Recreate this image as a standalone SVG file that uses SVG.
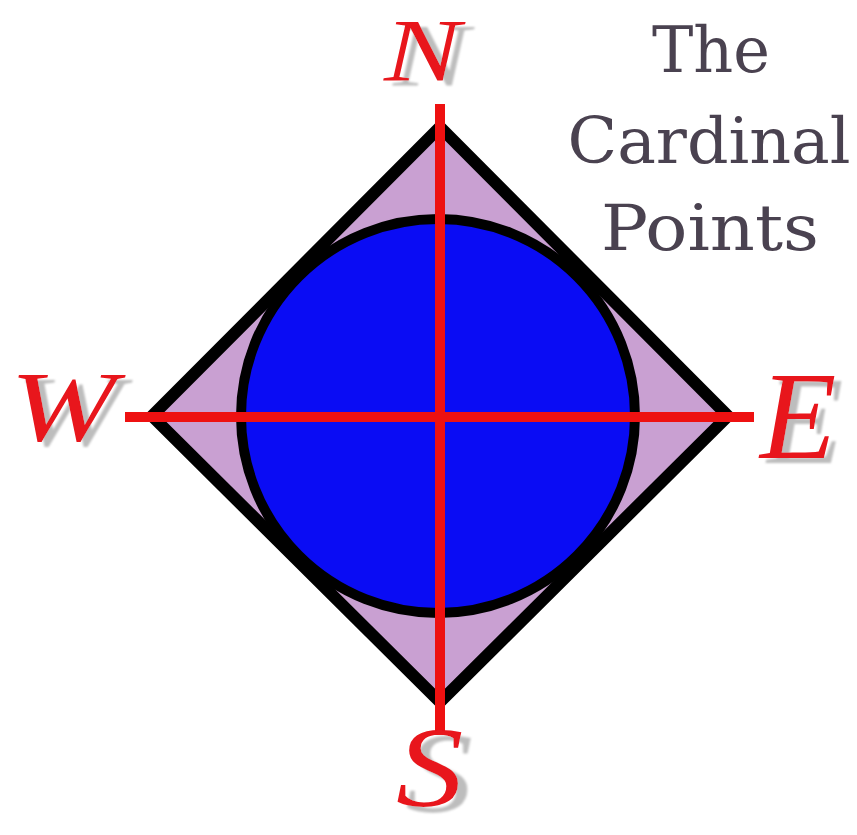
<svg xmlns="http://www.w3.org/2000/svg" width="857" height="835" viewBox="0 0 857 835">
<defs>
<filter id="shadow" x="-20%" y="-20%" width="150%" height="150%">
<feDropShadow dx="7" dy="5" stdDeviation="0.8" flood-color="#bdbdbd" flood-opacity="1"/>
</filter>
</defs>
<style>
.lt{font-family:"Liberation Serif","DejaVu Serif",serif;font-style:italic;fill:#e8141c;filter:url(#shadow)}
.ti{font-family:"DejaVu Serif","Liberation Serif",serif;fill:#4a4250;font-size:64px;text-anchor:middle}
.red{stroke:#ee1111;stroke-width:10;fill:none}
</style>
<rect width="857" height="835" fill="#ffffff"/>
<g id="diamond">
<polygon points="440,127 728,416 440,702 152,416" fill="#c9a0d2" stroke="#000" stroke-width="12" stroke-linejoin="miter"/>
</g>
<g id="globe">
<circle cx="438" cy="416" r="197" fill="#0a0cf4" stroke="#000" stroke-width="10"/>
</g>
<g id="connectors">
<line class="red" x1="440" y1="104" x2="440" y2="735"/>
<line class="red" x1="125" y1="417" x2="754" y2="417"/>
</g>
<g id="north">
<text class="lt" transform="translate(384,80) scale(1.3,1)" font-size="88">N</text>
</g>
<g id="west">
<text class="lt" x="10" y="440" font-size="100" textLength="106" lengthAdjust="spacingAndGlyphs">W</text>
</g>
<g id="east">
<text class="lt" x="760" y="458" font-size="125">E</text>
</g>
<g id="south">
<text class="lt" transform="translate(396,806) scale(1.35,1.15)" font-size="100">S</text>
</g>
<g id="title">
<text class="ti" x="711" y="72" textLength="118" lengthAdjust="spacingAndGlyphs">The</text>
<text class="ti" x="709" y="163" textLength="283" lengthAdjust="spacingAndGlyphs">Cardinal</text>
<text class="ti" x="710" y="250" textLength="218" lengthAdjust="spacingAndGlyphs">Points</text>
</g>
</svg>
